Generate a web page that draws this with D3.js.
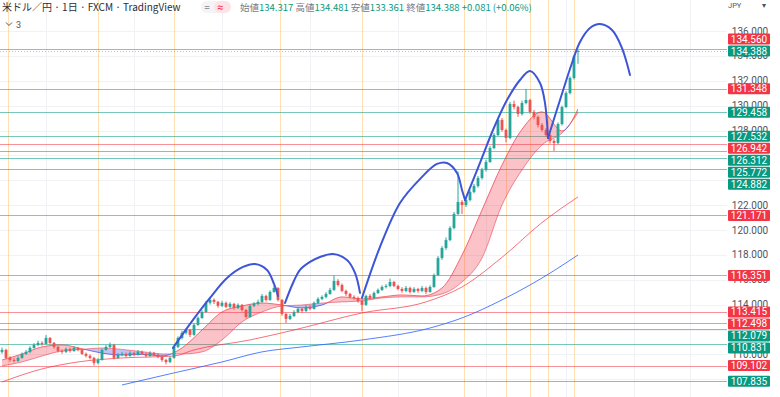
<!DOCTYPE html>
<html><head><meta charset="utf-8">
<script src="https://cdn.jsdelivr.net/npm/d3@7"></script>
<style>html,body{margin:0;padding:0;background:#fff;overflow:hidden}</style>
</head><body><svg id="c" width="780" height="397"></svg>
<script>
// ---- data ----
const opens=[110.20,110.36,109.72,109.55,109.47,109.72,110.04,110.20,110.52,110.76,
110.92,110.84,111.32,110.92,110.60,110.28,110.20,110.44,110.28,110.52,
110.36,110.04,109.88,109.72,109.31,109.55,110.36,110.60,110.76,109.72,
109.96,110.04,109.88,110.12,109.96,110.20,110.04,109.88,110.12,109.96,
109.80,109.55,109.39,109.72,110.60,111.32,111.73,111.97,111.57,112.37,
112.93,113.41,114.14,114.38,114.22,113.90,114.14,113.82,114.06,113.74,
113.98,113.57,113.01,113.90,114.06,114.22,114.70,114.38,115.02,115.34,
114.38,113.25,112.85,113.09,113.41,113.66,113.49,113.82,113.66,114.14,
114.46,114.62,114.86,115.18,115.90,115.58,115.10,114.86,114.62,114.54,
114.30,113.98,114.70,114.54,114.94,115.18,115.42,115.50,115.82,115.50,
115.26,115.10,115.34,115.02,115.26,115.10,115.34,115.02,115.42,116.38,
117.75,118.55,119.19,120.16,121.29,122.25,122.01,122.41,123.06,123.54,
124.18,124.83,125.47,126.59,127.64,128.85,128.04,127.40,130.13,129.89,
129.33,130.21,130.45,129.49,129.09,128.44,128.04,127.64,127.16,127.00,
128.52,129.89,131.01,132.22,134.317];
const highs=[110.55,110.45,109.85,109.70,109.85,110.15,110.35,110.65,110.90,111.10,
111.05,111.55,111.40,111.00,110.70,110.40,110.55,110.55,110.65,110.60,
110.45,110.15,110.00,109.80,109.70,110.45,110.75,110.95,110.85,110.10,
110.20,110.15,110.25,110.20,110.35,110.30,110.15,110.25,110.20,110.10,
109.90,109.65,109.85,110.70,111.45,111.90,112.10,112.05,112.50,113.05,
113.55,114.30,114.55,114.50,114.30,114.30,114.25,114.20,114.15,114.10,
114.05,113.65,114.00,114.20,114.40,114.85,114.80,115.15,115.52,115.40,
114.45,113.35,113.25,113.55,113.80,113.75,113.95,113.95,114.25,114.60,
114.75,115.00,115.35,116.35,116.05,115.70,115.20,114.95,114.75,114.65,
114.40,114.80,114.85,115.05,115.30,115.55,115.65,116.10,115.90,115.60,
115.40,115.50,115.45,115.40,115.35,115.50,115.45,115.55,116.50,117.90,
118.70,119.40,120.30,121.45,124.70,122.40,122.60,123.20,123.70,124.35,
125.00,125.65,126.75,127.80,129.00,129.00,128.15,130.30,130.40,130.00,
130.40,131.35,130.55,129.65,129.20,128.60,128.20,127.80,127.30,128.65,
130.00,131.15,132.35,134.10,134.481];
const lows=[110.05,109.60,109.40,109.35,109.40,109.65,109.95,110.10,110.45,110.65,
110.70,110.80,110.80,110.45,110.15,110.05,110.10,110.15,110.20,110.25,
109.95,109.75,109.60,109.10,109.20,109.50,110.30,110.50,109.60,109.65,
109.85,109.75,109.80,109.85,109.90,109.95,109.75,109.80,109.85,109.70,
109.40,109.20,109.30,109.65,110.50,111.20,111.60,111.40,111.50,112.30,
112.85,113.35,114.00,114.05,113.75,113.80,113.70,113.70,113.60,113.65,
113.45,112.90,112.95,113.80,113.95,114.15,114.25,114.30,114.95,114.25,
113.10,112.53,112.75,113.00,113.30,113.35,113.40,113.55,113.60,114.05,
114.35,114.50,114.80,115.10,115.45,115.00,114.70,114.50,114.40,114.15,
113.47,113.90,114.40,114.45,114.85,115.10,115.30,115.40,115.40,115.15,
114.95,115.00,114.90,114.95,114.95,115.00,114.85,114.95,115.35,116.30,
117.60,118.40,119.10,120.05,121.20,121.28,121.85,122.30,122.95,123.40,
124.05,124.70,125.40,126.50,127.55,127.90,127.05,127.30,129.70,129.10,
129.20,130.10,129.35,128.90,128.25,127.90,127.50,126.95,126.36,126.90,
128.40,129.80,130.90,132.10,133.361];
const closes=[110.36,109.72,109.55,109.47,109.72,110.04,110.20,110.52,110.76,110.92,
110.84,111.32,110.92,110.60,110.28,110.20,110.44,110.28,110.52,110.36,
110.04,109.88,109.72,109.31,109.55,110.36,110.60,110.76,109.72,109.96,
110.04,109.88,110.12,109.96,110.20,110.04,109.88,110.12,109.96,109.80,
109.55,109.39,109.72,110.60,111.32,111.73,111.97,111.57,112.37,112.93,
113.41,114.14,114.38,114.22,113.90,114.14,113.82,114.06,113.74,113.98,
113.57,113.01,113.90,114.06,114.22,114.70,114.38,115.02,115.34,114.38,
113.25,112.85,113.09,113.41,113.66,113.49,113.82,113.66,114.14,114.46,
114.62,114.86,115.18,115.90,115.58,115.10,114.86,114.62,114.54,114.30,
113.98,114.70,114.54,114.94,115.18,115.42,115.50,115.82,115.50,115.26,
115.10,115.34,115.02,115.26,115.10,115.34,115.02,115.42,116.38,117.75,
118.55,119.19,120.16,121.29,122.25,122.01,122.41,123.06,123.54,124.18,
124.83,125.47,126.59,127.64,128.85,128.04,127.40,130.13,129.89,129.33,
130.21,130.45,129.49,129.09,128.44,128.04,127.64,127.16,127.00,128.52,
129.89,131.01,132.22,133.95,134.388];

const ribbonIdx=[0,5,10,15,20,25,30,35,40,45,50,55,60,65,70,75,80,85,90,95,100,105,110,115,120,125,130,135,140,144];
const ribbonFast=[109.55,110.03,110.60,110.76,110.45,110.10,109.95,110.00,109.87,110.52,111.96,113.41,113.89,114.13,113.97,113.73,113.97,114.62,114.46,114.62,114.78,114.70,115.34,117.99,121.61,125.23,128.10,129.50,127.96,129.73];
const ribbonSlow=[109.07,109.39,109.87,110.28,110.40,110.52,110.40,110.22,110.04,110.03,110.20,111.16,112.61,113.41,113.89,113.97,114.13,114.22,114.30,114.54,114.62,114.62,114.86,115.82,117.75,122.01,124.83,126.84,127.80,129.41];

const maMidIdx=[0,10,19,30,43,48,62,73,90,106,115,125,135,144];
const maMid=[107.78,108.83,109.39,109.71,109.87,110.36,111.16,111.96,113.33,114.22,115.42,117.80,120.60,122.66];
const maLongIdx=[30,43,55,65,75,90,107,115,125,135,144];
const maLong=[107.54,108.51,109.39,110.20,110.60,111.16,112.12,112.93,114.38,116.14,117.99];

const redLevels=[134.560,131.348,126.942,121.171,116.351,113.415,112.498,109.102];
const greenLevels=[129.458,127.532,126.312,125.772,124.882,112.079,110.831,107.835];
const lastPrice=134.388;
const priceTicks=[108,110,112,114,116,118,120,122,124,126,128,130,132,134,136];
const markerIdx=[1.5,24,43,69.5,90,115.5,126,132,136.5,143];
const gridIdx=[11,33,55,77,99,121,141,158,172];

const arcs=[
 [[42.75,110.52],[47.75,112.77],[52,114.54],[56.25,116.14],[60.25,117.03],[63.25,117.27],[66.25,116.79],[68,115.66],[69,114.70]],
 [[70.75,114.13],[72.75,115.74],[74.5,116.79],[77,117.43],[79.5,117.83],[82.75,118.07],[86.25,117.59],[88.25,116.55],[89.5,114.94]],
 [[90,114.54],[94.5,118.64],[99.5,122.17],[104.5,124.10],[108.75,125.31],[111.25,125.39],[113.75,124.59],[115,123.22],[115.75,122.41]],
 [[115.75,122.41],[119.5,125.39],[122.75,128.04],[126.25,130.45],[129.5,132.06],[132,132.78],[134.5,131.82],[135.75,130.2],[136.5,127.40]],
 [[136.5,127.40],[139.5,130.45],[142.5,133.43],[144.5,135.12],[147,136.24],[149.5,136.56],[152.5,136.08],[155,134.63],[157,132.46]]
];

// ---- drawing ----
const W=780,H=397,plotR=727;
const svg=d3.select('#c');
const x=d3.scaleLinear().domain([0,144]).range([2,578]);
const y=d3.scaleLinear().domain([120,136]).range([230,31]);
const defs=svg.append('defs');
defs.append('clipPath').attr('id','plot').append('rect').attr('x',0).attr('y',0).attr('width',plotR).attr('height',H);

const rib=ribbonIdx.map((d,i)=>({i:d,f:ribbonFast[i],s:ribbonSlow[i]}));
const curve=d3.curveMonotoneX;
defs.append('clipPath').attr('id','above').append('path')
 .attr('d',d3.area().curve(curve).x(d=>x(d.i)).y0(-10).y1(d=>y(d.s))(rib));
defs.append('clipPath').attr('id','below').append('path')
 .attr('d',d3.area().curve(curve).x(d=>x(d.i)).y0(H+10).y1(d=>y(d.s))(rib));

const bg=svg.append('g');
const g=svg.append('g').attr('clip-path','url(#plot)');
const fg=svg.append('g');
// grid
bg.selectAll('line.hg').data(priceTicks).join('line').attr('class','hg').attr('x1',0).attr('x2',plotR)
 .attr('y1',d=>Math.round(y(d))+0.5).attr('y2',d=>Math.round(y(d))+0.5).attr('stroke','#f0f2f6').attr('stroke-width',1);
bg.selectAll('line.vg').data(gridIdx).join('line').attr('class','vg').attr('x1',d=>Math.round(x(d))+0.5).attr('x2',d=>Math.round(x(d))+0.5)
 .attr('y1',0).attr('y2',H).attr('stroke','#f0f2f6').attr('stroke-width',1);
// orange markers
bg.selectAll('line.mk').data(markerIdx).join('line').attr('class','mk').attr('x1',d=>Math.round(x(d))+0.5).attr('x2',d=>Math.round(x(d))+0.5)
 .attr('y1',0).attr('y2',H).attr('stroke','rgba(255,152,0,0.3)').attr('stroke-width',1);

// horizontal levels
g.selectAll('line.rl').data(redLevels).join('line').attr('class','rl').attr('x1',0).attr('x2',plotR)
 .attr('y1',d=>Math.round(y(d))+0.5).attr('y2',d=>Math.round(y(d))+0.5).attr('stroke','rgba(242,54,69,0.55)').attr('stroke-width',1);
g.selectAll('line.gl').data(greenLevels).join('line').attr('class','gl').attr('x1',0).attr('x2',plotR)
 .attr('y1',d=>Math.round(y(d))+0.5).attr('y2',d=>Math.round(y(d))+0.5).attr('stroke','rgba(8,153,129,0.55)').attr('stroke-width',1);
g.append('line').attr('x1',0).attr('x2',plotR).attr('y1',Math.round(y(lastPrice))+0.5).attr('y2',Math.round(y(lastPrice))+0.5)
 .attr('stroke','rgba(8,153,129,0.4)').attr('stroke-dasharray','1,2');

// ribbon fill
const ribArea=d3.area().curve(curve).x(d=>x(d.i)).y0(d=>y(d.s)).y1(d=>y(d.f));
g.append('path').attr('d',ribArea(rib)).attr('fill','rgba(242,54,69,0.3)').attr('clip-path','url(#above)');
g.append('path').attr('d',ribArea(rib)).attr('fill','rgba(80,80,225,0.35)').attr('clip-path','url(#below)');
const fastLine=d3.line().curve(curve).x(d=>x(d.i)).y(d=>y(d.f));
const slowLine=d3.line().curve(curve).x(d=>x(d.i)).y(d=>y(d.s));
g.append('path').attr('d',slowLine(rib)).attr('fill','none').attr('stroke','rgba(242,54,69,0.55)').attr('stroke-width',1);
g.append('path').attr('d',fastLine(rib)).attr('fill','none').attr('stroke','rgba(242,54,69,0.7)').attr('stroke-width',1).attr('clip-path','url(#above)');
g.append('path').attr('d',fastLine(rib)).attr('fill','none').attr('stroke','rgba(60,70,220,0.7)').attr('stroke-width',1).attr('clip-path','url(#below)');

// moving averages
const maLine=d3.line().curve(d3.curveMonotoneX).x(d=>x(d[0])).y(d=>y(d[1]));
g.append('path').attr('d',maLine(maMidIdx.map((d,i)=>[d,maMid[i]]))).attr('fill','none').attr('stroke','rgba(242,54,69,0.7)').attr('stroke-width',1);
g.append('path').attr('d',maLine(maLongIdx.map((d,i)=>[d,maLong[i]]))).attr('fill','none').attr('stroke','rgba(41,98,255,0.8)').attr('stroke-width',1);

// candles
const cd=closes.map((c,i)=>({i,o:opens[i],h:highs[i],l:lows[i],c}));
const up='#26a69a',dn='#ef5350';
g.selectAll('line.wk').data(cd).join('line').attr('class','wk').attr('x1',d=>x(d.i)).attr('x2',d=>x(d.i))
 .attr('y1',d=>y(d.h)).attr('y2',d=>y(d.l)).attr('stroke',d=>d.c>=d.o?up:dn).attr('stroke-width',1);
g.selectAll('rect.bd').data(cd).join('rect').attr('class','bd').attr('x',d=>x(d.i)-1.4).attr('width',2.8)
 .attr('y',d=>y(Math.max(d.o,d.c))).attr('height',d=>Math.max(1,Math.abs(y(d.o)-y(d.c))))
 .attr('fill',d=>d.c>=d.o?up:dn);

// arcs
const arcLine=d3.line().curve(d3.curveCatmullRom.alpha(0.5)).x(d=>x(d[0])).y(d=>y(d[1]));
g.selectAll('path.arc').data(arcs).join('path').attr('class','arc').attr('d',arcLine).attr('fill','none')
 .attr('stroke','#3d55d6').attr('stroke-width',2).attr('stroke-linecap','round');

// level labels with collision handling
let labs=redLevels.map(v=>({v,col:'#f23645'})).concat(greenLevels.map(v=>({v,col:'#089981'})));
labs.push({v:lastPrice,col:'#089981',pin:true});
labs.forEach(d=>d.y=y(d.v));
labs.sort((a,b)=>a.y-b.y);
const gap=12;
const k=labs.findIndex(d=>d.pin);
for(let j=k-1;j>=0;j--) labs[j].y=Math.min(labs[j].y,labs[j+1].y-gap);
for(let j=k+1;j<labs.length;j++) labs[j].y=Math.max(labs[j].y,labs[j-1].y+gap);

// price axis ticks: skip those mostly hidden behind label boxes
const fontAxis='Roboto, "Liberation Sans", sans-serif';
function covered(t){
  const a=y(t)-3.5,b=y(t)+3.5;let c=0;
  labs.forEach(l=>{const lo=Math.max(a,l.y-5.5),hi=Math.min(b,l.y+5.5);if(hi>lo)c+=hi-lo;});
  return c/(b-a);
}
const visTicks=priceTicks.filter(t=>covered(t)<0.75);
fg.selectAll('text.tk').data(visTicks).join('text').attr('class','tk').attr('x',750).attr('y',d=>y(d)).attr('dy','0.35em')
 .attr('text-anchor','middle').attr('font-family',fontAxis).attr('font-size',10).attr('fill','#50535e')
 .text(d=>d.toFixed(3));

const lg=fg.selectAll('g.lb').data(labs).join('g').attr('class','lb').attr('transform',d=>`translate(728,${d.y})`);
lg.append('rect').attr('x',0).attr('y',-5.5).attr('width',42).attr('height',11).attr('rx',1).attr('fill',d=>d.col);
lg.append('text').attr('x',21).attr('dy','0.35em').attr('text-anchor','middle').attr('font-family',fontAxis)
 .attr('font-size',10).attr('fill','#fff').text(d=>d.v.toFixed(3));

// header
const fontJP='"Noto Sans CJK JP", "Noto Sans", sans-serif';
fg.append('text').attr('x',2).attr('y',11).attr('font-family',fontJP).attr('font-size',10).attr('fill','#2a2e39')
 .text('米ドル／円 · 1日 · FXCM · TradingView');
fg.append('rect').attr('x',201).attr('y',1).attr('width',30).attr('height',12).attr('rx',6).attr('fill','#f4f4f6');
fg.append('rect').attr('x',214).attr('y',1).attr('width',17).attr('height',12).attr('rx',6).attr('fill','#fde3e6');
fg.append('text').attr('x',204).attr('y',11).attr('font-family',fontAxis).attr('font-size',11).attr('fill','#9598a1').text('=');
fg.append('text').attr('x',217).attr('y',11).attr('font-family',fontAxis).attr('font-size',11).attr('fill','#f23645').text('≈');
const ohlcLabels=['始値','高値','安値','終値'];
const ohlcVals=['134.317','134.481','133.361','134.388'];
const change='+0.081 (+0.06%)';
const ot=fg.append('text').attr('x',240).attr('y',11).attr('font-family',fontJP).attr('font-size',9.5);
ohlcLabels.forEach((l,i)=>{
  ot.append('tspan').attr('fill','#787b86').text(l);
  ot.append('tspan').attr('fill','#089981').text(ohlcVals[i]+' ');
});
ot.append('tspan').attr('fill','#089981').text(change);
// legend toggle
fg.append('path').attr('d','M6,22.5 L9,25.5 L12,22.5').attr('fill','none').attr('stroke','#50535e').attr('stroke-width',1);
fg.append('text').attr('x',16).attr('y',27.5).attr('font-family',fontAxis).attr('font-size',9).attr('fill','#50535e').text('3');
// currency
fg.append('text').attr('x',728).attr('y',8).attr('font-family',fontAxis).attr('font-size',7.5).attr('fill','#50535e').text('JPY');
fg.append('text').attr('x',762).attr('y',8).attr('font-family',fontAxis).attr('font-size',7.5).attr('fill','#50535e').text('▾');
</script></body></html>
